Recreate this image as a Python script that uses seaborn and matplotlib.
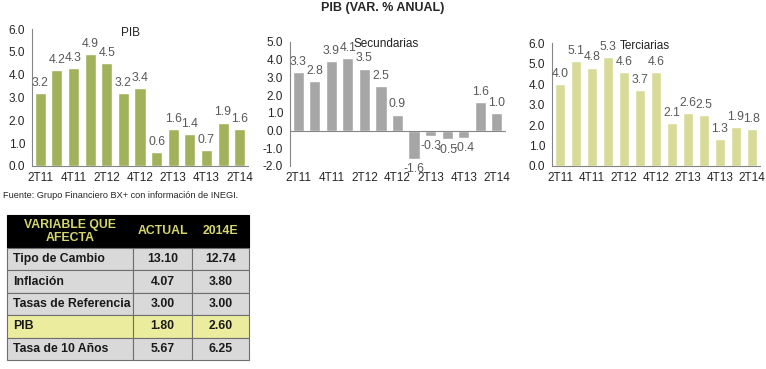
import matplotlib
matplotlib.use("Agg")
import matplotlib.pyplot as plt
import seaborn as sns
import pandas as pd

sns.set_style("white")
plt.rcParams['font.family'] = ['Liberation Sans', 'DejaVu Sans']

quarters = ["2T11", "3T11", "4T11", "1T12", "2T12", "3T12", "4T12",
            "1T13", "2T13", "3T13", "4T13", "1T14", "2T14"]
pib = [3.2, 4.2, 4.3, 4.9, 4.5, 3.2, 3.4, 0.6, 1.6, 1.4, 0.7, 1.9, 1.6]
secundarias = [3.3, 2.8, 3.9, 4.1, 3.5, 2.5, 0.9, -1.6, -0.3, -0.5, -0.4, 1.6, 1.0]
terciarias = [4.0, 5.1, 4.8, 5.3, 4.6, 3.7, 4.6, 2.1, 2.6, 2.5, 1.3, 1.9, 1.8]

table_header = ["VARIABLE QUE\nAFECTA", "ACTUAL", "2014E"]
table_vars = ["Tipo de Cambio", "Inflación", "Tasas de Referencia", "PIB", "Tasa de 10 Años"]
table_actual = ["13.10", "4.07", "3.00", "1.80", "5.67"]
table_2014e = ["12.74", "3.80", "3.00", "2.60", "6.25"]

W, H = 766, 369
fig = plt.figure(figsize=(W / 100, H / 100), dpi=100)

def frac(x0, y0, x1, y1):
    return [x0 / W, 1 - y1 / H, (x1 - x0) / W, (y1 - y0) / H]

panels = [
    (pib, "#A2B25B", (0, 6), frac(32, 29, 248, 166), "PIB", (0.454, 0.97)),
    (secundarias, "#A6A6A6", (-2, 5), frac(290, 42, 505, 166), "Secundarias", (0.447, 0.985)),
    (terciarias, "#D8DB98", (0, 6), frac(552, 43, 760, 166), "Terciarias", (0.445, 0.975)),
]

label_color = "#595959"
axis_color = "#868686"

for vals, col, ylim, rect, name, tpos in panels:
    ax = fig.add_axes(rect)
    df = pd.DataFrame({"q": quarters, "v": vals})
    sns.barplot(data=df, x="q", y="v", color=col, saturation=1, width=0.67, ax=ax)
    ax.set_xlim(-0.5, len(quarters) - 0.5)
    ax.set_ylim(*ylim)
    ax.set_yticks(range(ylim[0], ylim[1] + 1))
    ax.set_yticklabels([f"{v:.1f}" for v in range(ylim[0], ylim[1] + 1)], fontsize=8.5)
    ax.set_xlabel("")
    ax.set_ylabel("")
    for s in ["top", "right"]:
        ax.spines[s].set_visible(False)
    for s in ["left", "bottom"]:
        ax.spines[s].set_color(axis_color)
        ax.spines[s].set_linewidth(0.8)
    ax.spines["bottom"].set_position(("data", 0))
    ax.set_xticks([i - 0.5 for i in range(len(quarters) + 1)], minor=True)
    ax.set_xticks([])
    ax.tick_params(axis="x", which="minor", length=3, color=axis_color, direction="out")
    ax.tick_params(axis="y", length=3, color=axis_color, direction="out", pad=2)
    sec = ax.secondary_xaxis(0)
    sec.set_xticks(range(0, len(quarters), 2))
    sec.set_xticklabels(quarters[::2], fontsize=8.5)
    sec.tick_params(length=0, pad=4)
    sec.spines["bottom"].set_visible(False)
    for c in ax.containers:
        ax.bar_label(c, fmt="%.1f", fontsize=8.8, color=label_color, padding=3)
    ax.text(tpos[0], tpos[1], name, transform=ax.transAxes, fontsize=8.5,
            ha="center", va="center", color="#222222")

fig.text(383 / W, 1 - 8 / H, "PIB (VAR. % ANUAL)", ha="center", va="center",
         fontsize=9, fontweight="bold")
fig.text(3 / W, 1 - 196 / H, "Fuente: Grupo Financiero BX+ con información de INEGI.",
         ha="left", va="center", fontsize=6.6)

# table
tax = fig.add_axes(frac(7, 215, 249, 360))
tax.axis("off")
cells = [[a, b, c] for a, b, c in zip(table_vars, table_actual, table_2014e)]
tbl = tax.table(cellText=cells, colLabels=table_header, bbox=[0, 0, 1, 1],
                colWidths=[126, 59, 57])
tbl.auto_set_font_size(False)
for (r, c), cell in tbl.get_celld().items():
    cell.set_linewidth(0.8)
    if r == 0:
        cell.set_height(33)
        cell.set_facecolor("black")
        cell.set_edgecolor("black")
        cell.get_text().set_color("#D6D66E")
        cell.get_text().set_fontweight("bold")
        cell.get_text().set_fontsize(8.8)
        cell.get_text().set_ha("center")
        cell.get_text().set_linespacing(1.05)
    else:
        cell.set_height(22.4)
        is_pib = table_vars[r - 1] == "PIB"
        cell.set_facecolor("#ECEC9E" if is_pib else "#D9D9D9")
        cell.set_edgecolor("#6E6E6E")
        cell.get_text().set_fontweight("bold")
        cell.get_text().set_fontsize(8.8)
        cell.get_text().set_color("#1A1A1A")
        if c == 0:
            cell.get_text().set_ha("left")
            cell.PAD = 0.05
        else:
            cell.get_text().set_ha("center")
    if c == 0:
        cell.set_width(126)
        cell._loc = "left" if r > 0 else "center"
    elif c == 1:
        cell.set_width(59)
    else:
        cell.set_width(57)

fig.savefig("out.png", dpi=100, facecolor="white")
